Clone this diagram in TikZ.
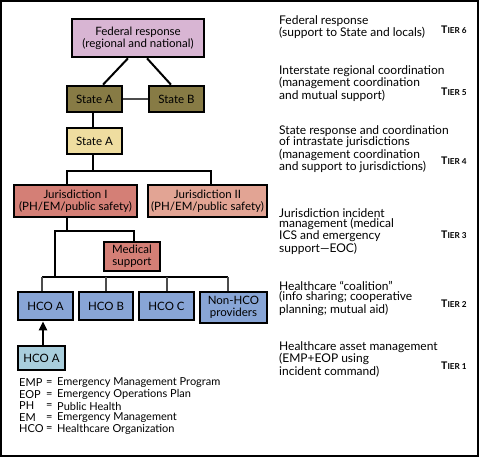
\documentclass[tikz,border=0pt]{standalone}
\usepackage{fontspec}
\setmainfont{Lato}
\usetikzlibrary{calc,arrows.meta}
\definecolor{fedc}{HTML}{D8B5D3}
\definecolor{stdark}{HTML}{877B45}
\definecolor{stlight}{HTML}{EFDDA0}
\definecolor{jurone}{HTML}{D47F76}
\definecolor{jurtwo}{HTML}{E2A494}
\definecolor{hcoc}{HTML}{88A5D6}
\definecolor{hcolight}{HTML}{A9CEDC}
\begin{document}
\begin{tikzpicture}[x=1pt,y=-1pt,
  box/.style={draw=black,line width=2.6pt,inner sep=0pt,align=center,
    font=\fontsize{11.5}{12}\selectfont},
  conn/.style={line width=2.6pt,black},
  medconn/.style={line width=2pt,black},
  thinconn/.style={line width=2pt,black!70},
  rtext/.style={anchor=north west,align=left,inner sep=0pt,
    font=\fontsize{12}{10.5}\selectfont},
  tier/.style={anchor=west,inner sep=0pt},
  leg/.style={anchor=west,inner sep=0pt,font=\fontsize{11}{11}\selectfont}]
\newcommand{\tierlab}[1]{\textbf{\fontsize{10.5}{10}\selectfont T\fontsize{8.2}{8}\selectfont IER #1}}
\draw[line width=1.3pt] (1,1) rectangle (478,456);
\useasboundingbox (0,0) rectangle (480,458);
% boxes
\node[box,fill=fedc,minimum width=132pt,minimum height=38pt] (fed) at (138,38) {Federal response\\(regional and national)};
\node[box,fill=stdark,minimum width=55pt,minimum height=26pt] (stA) at (94.5,99) {State A};
\node[box,fill=stdark,minimum width=55pt,minimum height=26pt] (stB) at (176.5,99) {State B};
\node[box,fill=stlight,minimum width=55pt,minimum height=26pt] (stAl) at (94.5,141) {State A};
\node[box,fill=jurone,minimum width=123pt,minimum height=32pt] (jone) at (75.5,201) {Jurisdiction I\\(PH/EM/public safety)};
\node[box,fill=jurtwo,minimum width=119pt,minimum height=32pt] (jtwo) at (207.5,201) {Jurisdiction II\\(PH/EM/public safety)};
\node[box,fill=jurone,minimum width=56pt,minimum height=29pt] (med) at (132,256.5) {Medical\\support};
\node[box,fill=hcoc,minimum width=55pt,minimum height=28pt] (hA) at (45.5,306) {HCO A};
\node[box,fill=hcoc,minimum width=54pt,minimum height=28pt] (hB) at (106,306) {HCO B};
\node[box,fill=hcoc,minimum width=55pt,minimum height=28pt] (hC) at (166.5,306) {HCO C};
\node[box,fill=hcoc,minimum width=67pt,minimum height=31pt] (nh) at (233.5,307.5) {Non-HCO\\providers};
\node[box,fill=hcolight,minimum width=47pt,minimum height=24pt] (hAl) at (41.5,358) {HCO A};
% junction coordinates
\coordinate (ca) at (93,171);
\coordinate (caL) at (67,171);
\coordinate (caR) at (211,171);
\coordinate (cb) at (67,231);
\coordinate (cbL) at (55,231);
\coordinate (cbR) at (134,231);
\coordinate (cc) at (55,277);
\coordinate (ccL) at (42,277);
\coordinate (ccR) at (228,277);
\coordinate (arr) at (43,0);
% connectors
\draw[medconn] ($(fed.south)+(-10,0)$) -- ($(stA.north)+(8.5,0)$);
\draw[medconn] ($(fed.south)+(9,0)$) -- ($(stB.north)+(-5.5,0)$);
\draw[thinconn] (stA.east) -- (stB.west);
\draw[medconn] (stA.south -| ca) -- (stAl.north -| ca);
\draw[medconn] (stAl.south -| ca) -- (ca);
\draw[conn,line join=miter] (jone.north -| caL) -- (caL) -- (caR) -- (jtwo.north -| caR);
\draw[conn] (jone.south -| cb) -- (cb);
\draw[conn,line join=miter] (cc) -- (cbL) -- (cbR) -- (med.north -| cbR);
\draw[conn] (ccL) -- (ccR);
\draw[thinconn] (ccL) -- (hA.north -| ccL);
\draw[thinconn] (hB.north |- cc) -- (hB.north);
\draw[thinconn] (hC.north |- cc) -- (hC.north);
\draw[thinconn] (ccR) -- (nh.north -| ccR);
\draw[conn,-{Triangle[length=9pt,width=8pt]}] (hAl.north -| arr) -- (hA.south -| arr);
% right texts
\node[rtext] (tsix) at (279,15) {Federal response\\(support to State and locals)};
\node[rtext] (tfive) at (279,65) {Interstate regional coordination\\(management coordination\\and mutual support)};
\node[rtext] (tfour) at (279,125) {State response and coordination\\of intrastate jurisdictions\\(management coordination\\and support to jurisdictions)};
\node[rtext] (tthree) at (279,208) {Jurisdiction incident\\management (medical\\ICS and emergency\\support---EOC)};
\node[rtext] (ttwo) at (279,281) {Healthcare ``coalition''\\(info sharing; cooperative\\planning; mutual aid)};
\node[rtext] (tone) at (279,341) {Healthcare asset management\\(EMP+EOP using\\incident command)};
\node[tier] (lsix) at (441,30) {\tierlab{6}};
\node[tier] (lfive) at (441,92) {\tierlab{5}};
\node[tier] (lfour) at (441,161) {\tierlab{4}};
\node[tier] (lthree) at (441,235) {\tierlab{3}};
\node[tier] (ltwo) at (441,304) {\tierlab{2}};
\node[tier] (lone) at (441,366) {\tierlab{1}};
% legend
\node[leg] (ka) at (19,383) {EMP};
\node[leg] (kb) at (19,394.5) {EOP};
\node[leg] (kc) at (19,406) {PH};
\node[leg] (kd) at (19,417.5) {EM};
\node[leg] (ke) at (19,429) {HCO};
\node[leg] (ea) at (46,383) {=};
\node[leg] (eb) at (46,394.5) {=};
\node[leg] (ec) at (46,406) {=};
\node[leg] (ed) at (46,417.5) {=};
\node[leg] (ee) at (46,429) {=};
\node[leg] (da) at (57,383) {Emergency Management Program};
\node[leg] (db) at (57,394.5) {Emergency Operations Plan};
\node[leg] (dc) at (57,406) {Public Health};
\node[leg] (dd) at (57,417.5) {Emergency Management};
\node[leg] (de) at (57,429) {Healthcare Organization};
\end{tikzpicture}
\end{document}
